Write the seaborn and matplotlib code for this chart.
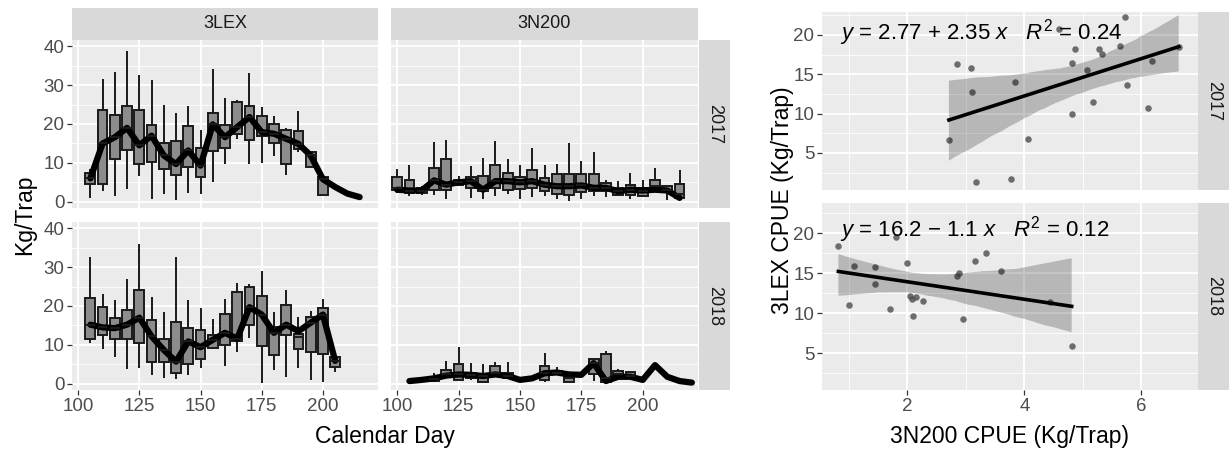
import numpy as np
import pandas as pd
import seaborn as sns
import matplotlib.pyplot as plt
from matplotlib.ticker import MultipleLocator

# box stats: (day, low whisker, q1, median, q3, high whisker)
lex17_boxes = [
    (105, 1.0, 4.6, 6.0, 7.4, 8.4), (110, 2.8, 4.5, 15.0, 23.7, 31.5),
    (115, 1.6, 10.9, 16.6, 22.2, 33.3), (120, 3.2, 13.4, 19.0, 24.6, 38.7),
    (125, 6.7, 9.7, 14.5, 23.7, 32.6), (130, 0.8, 10.3, 17.0, 19.8, 31.2),
    (135, 2.1, 8.3, 11.9, 15.1, 24.8), (140, 0.4, 6.9, 9.7, 15.6, 22.9),
    (145, 2.3, 9.0, 13.2, 19.4, 24.6), (150, 1.9, 6.4, 9.3, 13.8, 18.4),
    (155, 5.2, 13.0, 19.9, 22.9, 34.1), (160, 9.7, 13.8, 16.6, 19.7, 26.8),
    (165, 16.2, 17.3, 19.2, 25.7, 26.2), (170, 9.7, 15.8, 21.8, 24.7, 33.1),
    (175, 10.0, 16.9, 17.9, 22.1, 24.4), (180, 11.7, 15.1, 17.5, 19.9, 22.0),
    (185, 6.8, 9.7, 16.2, 18.5, 19.0), (190, 12.7, 13.6, 14.9, 18.1, 23.4),
    (195, 9.0, 9.0, 11.9, 12.9, 12.9), (200, 1.7, 1.7, 5.8, 6.4, 6.4),
]
lex17_line_day = [105, 110, 115, 120, 125, 130, 135, 140, 145, 150, 155, 160,
                  165, 170, 175, 180, 185, 190, 195, 200, 205, 210, 215]
lex17_line_kg = [6.0, 15.0, 16.6, 19.0, 14.5, 17.0, 11.9, 9.7, 13.2, 9.3, 19.9, 16.6,
                 19.2, 21.8, 17.9, 17.5, 16.2, 14.9, 11.9, 5.8, 3.8, 2.1, 1.2]

lex18_boxes = [
    (105, 10.5, 11.6, 15.2, 22.0, 32.6), (110, 8.9, 12.5, 14.5, 19.7, 23.2),
    (115, 6.8, 11.6, 14.3, 17.0, 21.5), (120, 3.7, 11.6, 15.2, 18.9, 26.9),
    (125, 4.0, 10.6, 17.0, 24.1, 36.0), (130, 2.3, 5.7, 12.2, 16.4, 22.2),
    (135, 1.6, 5.5, 8.7, 11.6, 18.5), (140, 1.2, 2.7, 5.7, 15.9, 32.7),
    (145, 2.3, 5.0, 10.9, 14.4, 21.6), (150, 4.0, 6.4, 9.4, 13.9, 19.6),
    (155, 9.2, 9.2, 11.3, 12.6, 16.7), (160, 4.7, 10.0, 13.1, 18.0, 21.9),
    (165, 8.1, 10.9, 11.6, 23.7, 25.8), (170, 11.8, 15.1, 19.7, 24.8, 25.6),
    (175, 0.3, 9.8, 17.8, 22.6, 29.1), (180, 3.5, 7.4, 13.1, 14.5, 18.4),
    (185, 1.8, 12.5, 15.2, 20.2, 24.1), (190, 4.0, 8.9, 12.0, 12.8, 17.2),
    (195, 1.0, 8.1, 15.7, 17.1, 18.7), (200, 0.5, 7.6, 17.8, 19.6, 21.9),
    (205, 3.1, 4.4, 5.9, 7.0, 7.0),
]
lex18_line_day = [105, 110, 115, 120, 125, 130, 135, 140, 145, 150, 155,
                  160, 165, 170, 175, 180, 185, 190, 195, 200, 205]
lex18_line_kg = [15.2, 14.5, 14.3, 15.2, 17.0, 12.2, 8.7, 5.7, 10.9, 9.4, 11.3,
                 13.1, 11.6, 19.7, 17.8, 13.1, 15.2, 13.5, 15.7, 17.8, 5.9]

n200_17_boxes = [
    (100, 2.3, 3.1, 3.5, 6.4, 8.5), (105, 1.6, 2.3, 2.9, 5.7, 9.4),
    (110, 1.8, 2.3, 2.9, 3.6, 4.0), (115, 1.8, 3.1, 5.5, 8.7, 15.4),
    (120, 0.7, 3.1, 4.4, 10.9, 15.8), (125, 4.0, 4.3, 5.0, 5.7, 6.6),
    (130, 1.0, 3.6, 5.3, 6.4, 9.2), (135, 0.7, 2.7, 3.1, 6.7, 11.3),
    (140, 1.6, 3.6, 5.3, 9.4, 15.7), (145, 2.1, 3.1, 5.3, 7.4, 11.1),
    (150, 0.7, 3.3, 5.0, 6.4, 9.4), (155, 1.2, 3.6, 5.3, 8.1, 13.9),
    (160, 1.6, 2.7, 4.4, 6.2, 9.4), (165, 0.7, 2.1, 4.0, 7.2, 9.7),
    (170, 0.3, 1.8, 4.0, 7.2, 15.0), (175, 0.7, 2.4, 4.2, 7.2, 10.6),
    (180, 1.6, 2.9, 3.6, 7.2, 12.9), (185, 1.2, 2.7, 3.6, 4.8, 5.7),
    (190, 1.6, 1.8, 2.7, 3.6, 5.3), (195, 0.7, 1.8, 3.1, 4.2, 7.4),
    (200, 1.2, 1.6, 2.9, 3.6, 5.7), (205, 2.9, 3.3, 4.0, 5.5, 8.7),
    (210, 0.5, 2.9, 3.0, 4.0, 4.0), (215, 0.7, 1.0, 2.0, 4.6, 8.2),
]
n200_17_line_day = [100, 105, 110, 115, 120, 125, 130, 135, 140, 145, 150, 155,
                    160, 165, 170, 175, 180, 185, 190, 195, 200, 205, 210, 215]
n200_17_line_kg = [3.1, 2.9, 2.9, 5.5, 4.4, 5.0, 5.3, 3.1, 5.3, 5.3, 5.0, 5.3,
                   4.4, 4.0, 4.0, 4.2, 3.6, 3.6, 2.7, 3.1, 2.9, 3.1, 2.9, 1.0]

n200_18_boxes = [
    (115, 0.5, 0.8, 1.2, 1.5, 2.7), (120, 1.4, 2.3, 2.6, 3.5, 5.9),
    (125, 0.7, 1.0, 2.4, 5.0, 9.4), (130, 1.0, 1.4, 2.3, 2.7, 5.3),
    (135, 0.4, 0.5, 2.0, 2.4, 5.0), (140, 1.8, 2.4, 2.8, 4.7, 5.5),
    (145, 1.4, 1.4, 2.0, 2.7, 5.5), (160, 0.5, 1.1, 2.7, 4.6, 7.9),
    (165, 2.4, 2.4, 2.9, 3.3, 4.4), (170, 0.5, 0.5, 1.5, 2.4, 3.1),
    (180, 0.8, 2.5, 5.3, 6.3, 6.5), (185, 0.5, 0.5, 1.5, 7.6, 8.4),
    (190, 1.4, 2.3, 2.5, 3.3, 3.9), (195, 1.8, 1.8, 2.0, 3.1, 3.1),
]
n200_18_line_day = [105, 110, 115, 120, 125, 130, 135, 140, 145, 150, 155, 160,
                    165, 170, 175, 180, 185, 190, 195, 200, 205, 210, 215, 220]
n200_18_line_kg = [0.7, 1.0, 1.4, 2.1, 2.4, 2.3, 2.0, 2.4, 2.0, 1.0, 1.4, 2.7,
                   2.9, 2.4, 2.3, 5.3, 0.7, 1.8, 1.8, 1.0, 4.8, 1.8, 0.7, 0.3]

# weekly CPUE pairs for the regression panels
n200_cpue_2017 = [2.71, 2.85, 3.09, 3.10, 3.18, 3.77, 3.84, 4.06, 4.59, 4.81, 4.81,
                  4.87, 5.08, 5.17, 5.27, 5.33, 5.64, 5.73, 5.76, 6.11, 6.19, 6.64]
lex_cpue_2017 = [6.66, 16.3, 15.85, 12.76, 1.36, 1.70, 13.99, 6.79, 20.76, 16.4, 9.92,
                 18.2, 15.55, 11.53, 18.2, 17.6, 18.6, 22.25, 13.6, 10.76, 16.7, 18.4]
n200_cpue_2018 = [0.82, 1.00, 1.09, 1.44, 1.45, 1.71, 1.81, 1.99, 2.05, 2.08, 2.09,
                  2.15, 2.27, 2.85, 2.88, 2.95, 3.15, 3.34, 3.60, 4.44, 4.81]
lex_cpue_2018 = [18.4, 11.0, 15.9, 15.8, 13.6, 10.5, 19.5, 16.3, 12.1, 11.8, 9.7,
                 12.0, 11.5, 14.6, 15.0, 9.25, 16.5, 17.5, 15.25, 11.4, 5.9]

eq_2017 = r"$y$ = 2.77 + 2.35 $x$   $R^2$ = 0.24"
eq_2018 = r"$y$ = 16.2 $-$ 1.1 $x$   $R^2$ = 0.12"

plt.rcParams['font.family'] = ['Liberation Sans', 'DejaVu Sans']
plt.rcParams['mathtext.fontset'] = 'custom'
plt.rcParams['mathtext.rm'] = 'Liberation Sans'
plt.rcParams['mathtext.it'] = 'Liberation Sans:italic'
plt.rcParams['mathtext.bf'] = 'Liberation Sans:bold'

W, H = 1229, 450
fig = plt.figure(figsize=(W / 100, H / 100), dpi=100)


def place(x0, y0, x1, y1):
    return fig.add_axes([x0 / W, 1 - y1 / H, (x1 - x0) / W, (y1 - y0) / H])


def gg_style(ax):
    ax.set_facecolor('#EBEBEB')
    for s in ax.spines.values():
        s.set_visible(False)
    ax.set_axisbelow(True)
    ax.grid(which='major', color='white', lw=1.3)
    ax.grid(which='minor', color='white', lw=0.6)
    ax.tick_params(which='major', length=3.5, width=0.9, color='#333333',
                   labelsize=13.5, labelcolor='#4D4D4D', pad=2)
    ax.tick_params(which='minor', length=0)
    ax.set_xlabel('')
    ax.set_ylabel('')


def strip(x0, y0, x1, y1, label, rot=0):
    s = place(x0, y0, x1, y1)
    s.set_facecolor('#D9D9D9')
    for sp in s.spines.values():
        sp.set_visible(False)
    s.set_xticks([])
    s.set_yticks([])
    s.text(0.5, 0.5, label, ha='center', va='center', rotation=rot,
           fontsize=13, color='#1A1A1A', transform=s.transAxes)


def box_frame(boxes):
    rows = []
    for day, lo, q1, med, q3, hi in boxes:
        for v in (lo, q1, med, q3, hi):
            rows.append({'day': day, 'kg': v})
    return pd.DataFrame(rows)


panels = [
    ((72, 40, 378, 208), lex17_boxes, lex17_line_day, lex17_line_kg, True, False),
    ((391, 40, 698, 208), n200_17_boxes, n200_17_line_day, n200_17_line_kg, False, False),
    ((72, 222, 378, 390), lex18_boxes, lex18_line_day, lex18_line_kg, True, True),
    ((391, 222, 698, 390), n200_18_boxes, n200_18_line_day, n200_18_line_kg, False, True),
]

for pos, boxes, lday, lkg, show_y, show_x in panels:
    ax = place(*pos)
    sns.boxplot(data=box_frame(boxes), x='day', y='kg', native_scale=True,
                whis=(0, 100), width=0.8, color='#8C8C8C', saturation=1,
                linecolor='#1A1A1A', linewidth=1.4, fliersize=0,
                showcaps=False, ax=ax)
    sns.lineplot(x=lday, y=lkg, color='black', lw=4.5, ax=ax,
                 solid_capstyle='round', solid_joinstyle='round')
    ax.set_xlim(97.5, 222.5)
    ax.set_ylim(-1.6, 41.6)
    ax.set_xticks([100, 125, 150, 175, 200])
    ax.set_yticks([0, 10, 20, 30, 40])
    ax.yaxis.set_minor_locator(MultipleLocator(5))
    gg_style(ax)
    ax.grid(which='minor', axis='x', visible=False)
    if not show_y:
        ax.tick_params(axis='y', length=0, labelleft=False)
    if not show_x:
        ax.tick_params(axis='x', length=0, labelbottom=False)

strip(72, 8, 378, 40, '3LEX')
strip(391, 8, 698, 40, '3N200')
strip(699, 40, 730, 208, '2017', rot=-90)
strip(699, 222, 730, 390, '2018', rot=-90)

fig.text(25 / W, 1 - 215 / H, 'Kg/Trap', rotation=90, ha='center', va='center',
         fontsize=16.5, color='black')
fig.text(385 / W, 1 - 437 / H, 'Calendar Day', ha='center', va='center',
         fontsize=16.5, color='black')

# regression panels
reg_panels = [
    ((822, 12, 1198, 190), n200_cpue_2017, lex_cpue_2017, eq_2017, (0.3, 22.9), 0.847, False),
    ((822, 203, 1198, 390), n200_cpue_2018, lex_cpue_2018, eq_2018, (0.4, 23.75), 0.82, True),
]
for pos, xs, ys, eq, ylim, ty, show_x in reg_panels:
    ax = place(*pos)
    sns.regplot(x=xs, y=ys, ax=ax, ci=95, color='#4D4D4D',
                scatter_kws={'s': 22, 'linewidths': 0},
                line_kws={'color': 'black', 'lw': 2.6})
    ax.collections[-1].set_alpha(0.22)
    ax.set_xlim(0.54, 6.97)
    ax.set_ylim(*ylim)
    ax.set_xticks([2, 4, 6])
    ax.set_yticks([5, 10, 15, 20])
    ax.xaxis.set_minor_locator(MultipleLocator(1))
    ax.yaxis.set_minor_locator(MultipleLocator(2.5))
    gg_style(ax)
    ax.text(0.048, ty, eq, transform=ax.transAxes, ha='left', va='baseline',
            fontsize=16, color='black')
    if not show_x:
        ax.tick_params(axis='x', length=0, labelbottom=False)

strip(1198, 12, 1229, 190, '2017', rot=-90)
strip(1198, 203, 1229, 390, '2018', rot=-90)

fig.text(782 / W, 1 - 200 / H, '3LEX CPUE (Kg/Trap)', rotation=90, ha='center',
         va='center', fontsize=16.5, color='black')
fig.text(1010 / W, 1 - 437 / H, '3N200 CPUE (Kg/Trap)', ha='center', va='center',
         fontsize=16.5, color='black')

fig.savefig('out.png', dpi=100, facecolor='white')
